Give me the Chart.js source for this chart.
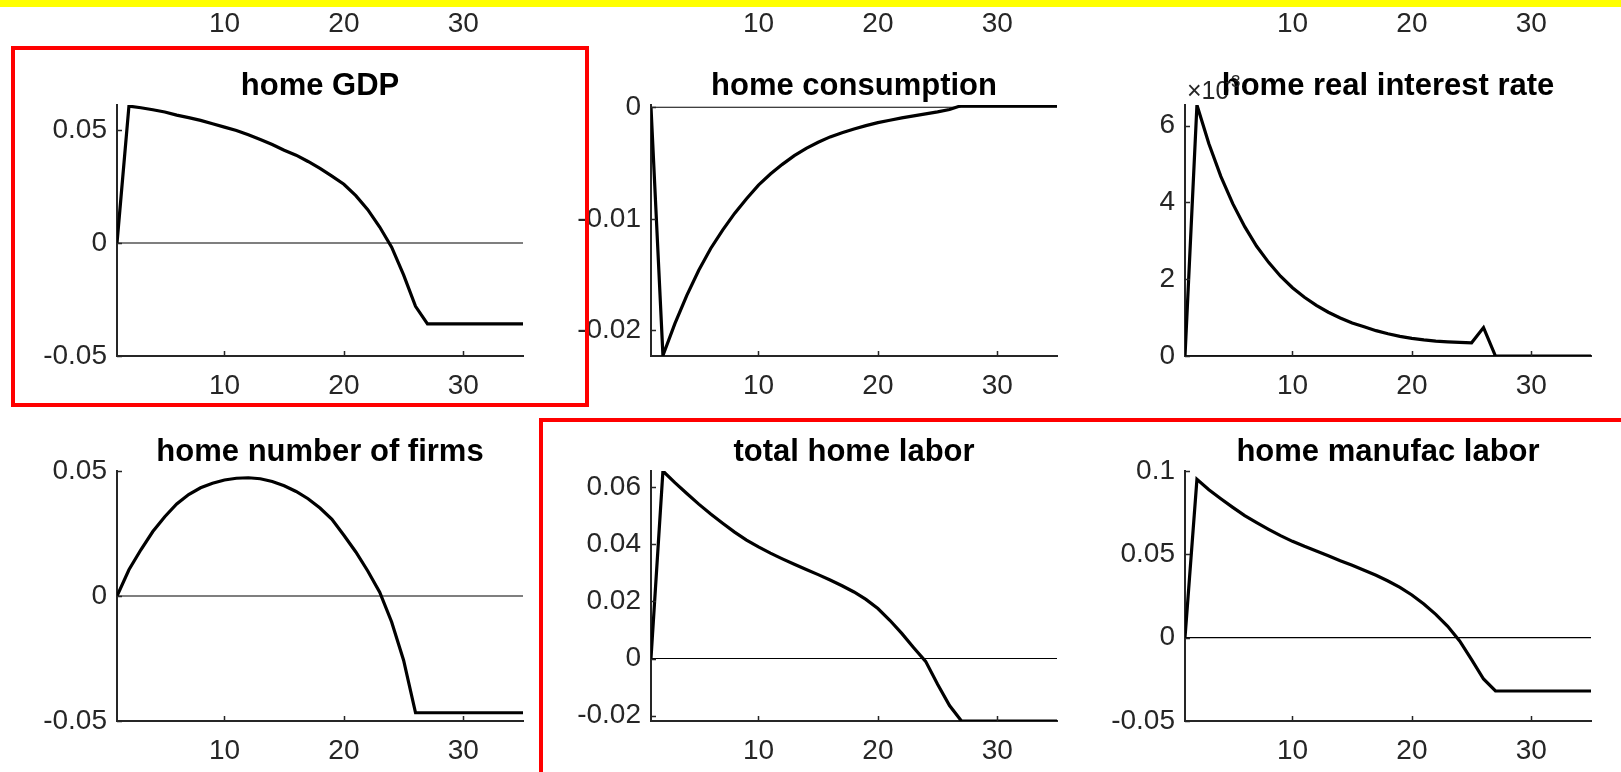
<!DOCTYPE html>
<html>
<head>
<title>Impulse responses</title>
<script src="https://cdn.jsdelivr.net/npm/chart.js"></script>
<style>
    body { margin: 0; background: #fff; overflow: hidden; width: 1621px; height: 772px; position: relative; }
    #stage { position: absolute; left: 0; top: 0; width: 1621px; height: 772px; }
    #stage canvas { position: absolute; }
    .frame { position: absolute; border: 4.5px solid #ff0000; box-sizing: border-box; }
    .band { position: absolute; left: 0; top: 0; width: 1621px; height: 7px; background: #ffff00; }
</style>
</head>
<body>
<div id="stage"></div>
<div class="frame" style="left:11px;top:46px;width:578px;height:361px"></div>
<div class="frame" style="left:539px;top:418px;width:1200px;height:500px"></div>
<div class="band"></div>
<script>
    // horizon (quarters) and x ticks, shared by every panel
    const periods = [1, 2, 3, 4, 5, 6, 7, 8, 9, 10, 11, 12, 13, 14, 15, 16, 17, 18,
        19, 20, 21, 22, 23, 24, 25, 26, 27, 28, 29, 30, 31, 32, 33, 34, 35];
    const xTicks = [10, 20, 30];
    const xTickLabels = ['10', '20', '30'];

    // thin reference line at zero
    const zeroSpan = [1, 35];
    const zeroLevel = [0, 0];

    const homeGDP = [0, 0.0606, 0.0599, 0.0590, 0.0580, 0.0566, 0.0555, 0.0543, 0.0528, 0.0513,
        0.0498, 0.0479, 0.0458, 0.0436, 0.0411, 0.0389, 0.0361, 0.0330, 0.0296, 0.0260,
        0.0210, 0.0148, 0.0071, -0.0018, -0.0141, -0.0280, -0.0358, -0.0358, -0.0358, -0.0358,
        -0.0358, -0.0358, -0.0358, -0.0358, -0.0358];
    const homeConsumption = [0, -0.02225, -0.0194, -0.01686, -0.01461, -0.01266, -0.01102, -0.00952, -0.0082, -0.00698,
        -0.00599, -0.00512, -0.00434, -0.00368, -0.00314, -0.00266, -0.00228, -0.00195, -0.00165, -0.00138,
        -0.00117, -0.00096, -0.00078, -0.0006, -0.00042, -0.00021, 0.00015, 0.00015, 0.00015, 0.00015,
        0.00015, 0.00015, 0.00015, 0.00015, 0.00015];
    const homeRealRate = [0, 0.00654, 0.00553, 0.00468, 0.00397, 0.00337, 0.00286, 0.00244, 0.00208, 0.00178,
        0.00153, 0.00132, 0.00114, 0.00099, 0.00086, 0.00076, 0.00066, 0.00058, 0.00051, 0.00046,
        0.00042, 0.00039, 0.00037, 0.000355, 0.000345, 0.00074, 0, 0, 0, 0,
        0, 0, 0, 0, 0];
    const homeFirms = [0, 0.0105, 0.0185, 0.0258, 0.0317, 0.0368, 0.0406, 0.0433, 0.0451, 0.0464,
        0.0471, 0.0473, 0.0469, 0.0458, 0.0441, 0.0418, 0.0389, 0.0352, 0.0307, 0.0243,
        0.0176, 0.0100, 0.0015, -0.0104, -0.0257, -0.0467, -0.0467, -0.0467, -0.0467, -0.0467,
        -0.0467, -0.0467, -0.0467, -0.0467, -0.0467];
    const totalHomeLabor = [0, 0.0657, 0.0616, 0.0578, 0.0541, 0.0506, 0.0474, 0.0443, 0.0415, 0.0391,
        0.0369, 0.0349, 0.0330, 0.0312, 0.0294, 0.0275, 0.0255, 0.0233, 0.0207, 0.0175,
        0.0134, 0.0088, 0.0038, -0.0010, -0.0090, -0.0165, -0.0219, -0.0219, -0.0219, -0.0219,
        -0.0219, -0.0219, -0.0219, -0.0219, -0.0219];
    const homeManufacLabor = [0, 0.0950, 0.0888, 0.0834, 0.0782, 0.0732, 0.0690, 0.0650, 0.0612, 0.0578,
        0.0548, 0.0520, 0.0492, 0.0462, 0.0434, 0.0404, 0.0374, 0.0340, 0.0302, 0.0256,
        0.0202, 0.0140, 0.0068, -0.0020, -0.0132, -0.0248, -0.0320, -0.0320, -0.0320, -0.0320,
        -0.0320, -0.0320, -0.0320, -0.0320, -0.0320];

    // y ticks and their labels
    const gdpTicks = [-0.05, 0, 0.05];
    const gdpTickLabels = ['-0.05', '0', '0.05'];
    const consTicks = [-0.02, -0.01, 0];
    const consTickLabels = ['-0.02', '-0.01', '0'];
    const rateTicks = [0, 0.002, 0.004, 0.006];
    const rateTickLabels = ['0', '2', '4', '6'];
    const firmsTicks = [-0.05, 0, 0.05];
    const firmsTickLabels = ['-0.05', '0', '0.05'];
    const laborTicks = [-0.02, 0, 0.02, 0.04, 0.06];
    const laborTickLabels = ['-0.02', '0', '0.02', '0.04', '0.06'];
    const manufacTicks = [-0.05, 0, 0.05, 0.1];
    const manufacTickLabels = ['-0.05', '0', '0.05', '0.1'];

    const FONT = '"Liberation Sans", Arial, Helvetica, sans-serif';
    const AXIS_COLOR = '#262626';
    const COLS = [117, 651, 1185];
    const AREA_W = 406;
    const PAD_L = 110, PAD_R = 15, PAD_T = 50, PAD_B = 50;

    const panels = [
        // cut-off row above: only its x tick labels are on screen
        { col: 0, top: -60, h: 54 },
        { col: 1, top: -60, h: 54 },
        { col: 2, top: -60, h: 54 },
        { col: 0, top: 105, h: 251, title: 'home GDP', values: homeGDP,
          yMin: -0.05, yMax: 0.0611, yTicks: gdpTicks, yLabels: gdpTickLabels },
        { col: 1, top: 105, h: 251, title: 'home consumption', values: homeConsumption,
          yMin: -0.0223, yMax: 0.0002, yTicks: consTicks, yLabels: consTickLabels },
        { col: 2, top: 105, h: 251, title: 'home real interest rate', values: homeRealRate,
          yMin: 0, yMax: 0.00654, yTicks: rateTicks, yLabels: rateTickLabels, exponent: '-3' },
        { col: 0, top: 471, h: 250, title: 'home number of firms', values: homeFirms,
          yMin: -0.05, yMax: 0.05, yTicks: firmsTicks, yLabels: firmsTickLabels },
        { col: 1, top: 471, h: 250, title: 'total home labor', values: totalHomeLabor,
          yMin: -0.0219, yMax: 0.0657, yTicks: laborTicks, yLabels: laborTickLabels },
        { col: 2, top: 471, h: 250, title: 'home manufac labor', values: homeManufacLabor,
          yMin: -0.05, yMax: 0.1, yTicks: manufacTicks, yLabels: manufacTickLabels }
    ];

    // inward tick marks, exponent label and bold title, MATLAB style
    const panelDecor = {
        id: 'panelDecor',
        afterDraw(chart, args, opts) {
            if (!opts.title) return;
            const ctx = chart.ctx, a = chart.chartArea;
            const xs = chart.scales.x, ys = chart.scales.y;
            ctx.save();
            ctx.strokeStyle = AXIS_COLOR;
            ctx.lineWidth = 1.5;
            ctx.beginPath();
            xs.ticks.forEach(t => {
                const px = Math.round(xs.getPixelForValue(t.value)) + 0.5;
                ctx.moveTo(px, a.bottom);
                ctx.lineTo(px, a.bottom - 5);
            });
            ys.ticks.forEach(t => {
                const py = Math.round(ys.getPixelForValue(t.value)) + 0.5;
                ctx.moveTo(a.left, py);
                ctx.lineTo(a.left + 5, py);
            });
            ctx.stroke();

            let expX = 0;
            if (opts.exponent) {
                ctx.fillStyle = AXIS_COLOR;
                ctx.textAlign = 'left';
                ctx.textBaseline = 'alphabetic';
                ctx.font = '25px ' + FONT;
                ctx.fillText('\u00d710', a.left + 2, a.top - 6);
                expX = a.left + 2 + ctx.measureText('\u00d710').width - 4;
            }

            ctx.fillStyle = '#000';
            ctx.textAlign = 'center';
            ctx.textBaseline = 'alphabetic';
            ctx.font = 'bold 31px ' + FONT;
            ctx.fillText(opts.title, (a.left + a.right) / 2, a.top - 10);

            if (opts.exponent) {
                ctx.fillStyle = AXIS_COLOR;
                ctx.textAlign = 'left';
                ctx.font = '17px ' + FONT;
                ctx.fillText(opts.exponent, expX, a.top - 18);
            }
            ctx.restore();
        }
    };

    const stage = document.getElementById('stage');

    function addPanel(p) {
        const hasPlot = !!p.values;
        const cv = document.createElement('canvas');
        cv.width = PAD_L + AREA_W + PAD_R;
        cv.height = PAD_T + p.h + PAD_B;
        cv.style.left = (COLS[p.col] - PAD_L) + 'px';
        cv.style.top = (p.top - PAD_T) + 'px';
        stage.appendChild(cv);

        const datasets = [];
        if (hasPlot) {
            datasets.push({
                data: p.values.map((v, i) => ({ x: periods[i], y: v })),
                borderColor: '#000', borderWidth: 3.2, pointRadius: 0, tension: 0
            });
            datasets.push({
                data: zeroSpan.map((x, i) => ({ x: x, y: zeroLevel[i] })),
                borderColor: '#000', borderWidth: 1.1, pointRadius: 0
            });
        }

        new Chart(cv, {
            type: 'line',
            data: { datasets: datasets },
            options: {
                responsive: false,
                animation: false,
                events: [],
                layout: { padding: { top: PAD_T, right: PAD_R, bottom: 0, left: 0 } },
                plugins: {
                    legend: { display: false },
                    tooltip: { enabled: false },
                    panelDecor: { title: p.title, exponent: p.exponent }
                },
                scales: {
                    x: {
                        type: 'linear', min: 1, max: 35,
                        afterBuildTicks: s => { s.ticks = xTicks.map(v => ({ value: v })); },
                        afterFit: s => { s.height = PAD_B; s.paddingLeft = 0; s.paddingRight = 0; },
                        grid: { display: false, drawTicks: false },
                        border: { display: hasPlot, color: AXIS_COLOR, width: 2 },
                        ticks: {
                            padding: 13, maxRotation: 0, autoSkip: false,
                            color: AXIS_COLOR, font: { family: FONT, size: 28 },
                            callback: (v, i) => xTickLabels[i]
                        }
                    },
                    y: {
                        type: 'linear', min: hasPlot ? p.yMin : 0, max: hasPlot ? p.yMax : 1,
                        afterBuildTicks: s => { s.ticks = hasPlot ? p.yTicks.map(v => ({ value: v })) : []; },
                        afterFit: s => { s.width = PAD_L; s.paddingTop = 0; s.paddingBottom = 0; },
                        grid: { display: false, drawTicks: false },
                        border: { display: hasPlot, color: AXIS_COLOR, width: 2 },
                        ticks: {
                            padding: 10, autoSkip: false,
                            color: AXIS_COLOR, font: { family: FONT, size: 28 },
                            callback: (v, i) => (hasPlot ? p.yLabels[i] : '')
                        }
                    }
                }
            },
            plugins: [panelDecor]
        });
    }

    panels.forEach(addPanel);
</script>
</body>
</html>
